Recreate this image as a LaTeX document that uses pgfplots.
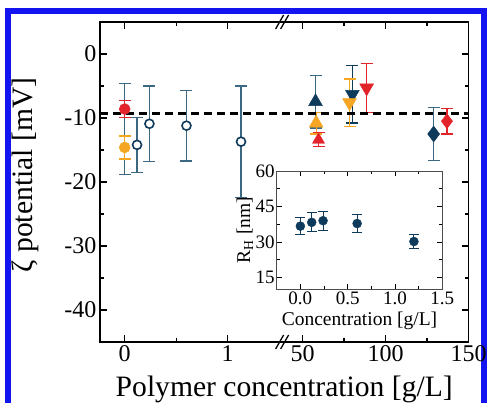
\documentclass[border=0pt]{standalone}
\usepackage{fontspec}
\setmainfont{Liberation Serif}
\usepackage{pgfplots}
\pgfplotsset{compat=1.18}
\definecolor{zred}{HTML}{E3232A}
\definecolor{zorange}{HTML}{F5A623}
\definecolor{znavy}{HTML}{0E3A5C}
\definecolor{zsteel}{HTML}{3D6882}
\definecolor{frameblue}{HTML}{1414F0}
% Broken x axis: left part in g/L as is (0..1.5);
% right part (50..150 g/L) drawn at u = 1.728 + (c-50)*0.01612
\begin{document}
\begin{tikzpicture}
\useasboundingbox (0,0) rectangle (488bp,403bp);
\draw[frameblue, line width=6bp] (8bp,-10bp) -- (8bp,392bp) -- (483.5bp,392bp) -- (483.5bp,-10bp);
\begin{axis}[
  at={(100bp,61bp)}, anchor=south west,
  scale only axis, width=368.5bp, height=320bp,
  xmin=-0.24, xmax=3.34, ymin=-45, ymax=5,
  clip=false,
  x filter/.expression={x<5 ? x : 1.728+(x-50)*0.01612},
  xtick={0,1,1.728,2.534,3.34},
  xticklabels={0,1,50,100,150},
  minor xtick={0.5,2.131,2.937},
  ytick={-40,-30,-20,-10,0},
  minor ytick={-45,-35,-25,-15,-5,5},
  tick align=inside,
  major tick length=7bp, minor tick length=4bp,
  every tick/.style={black, line width=1.2bp},
  axis line style={line width=1.5bp},
  /pgf/number format/assume math mode=true,
  tick label style={font=\fontsize{24bp}{28bp}\selectfont},
  label style={font=\fontsize{29.6bp}{34bp}\selectfont},
  xlabel={Polymer concentration [g/L]},
  ylabel={ζ potential [mV]},
  xlabel style={at={(axis description cs:0.5,-0.171)}, anchor=base},
  ylabel style={at={(axis description cs:-0.182,0.522)}, anchor=base},
]
% bar at x=0 (marker hidden)
\addplot[only marks, mark=*, mark size=0pt, mark options={draw=none, fill=none},
  error bars/.cd, y dir=both, y explicit,
  error bar style={draw=zsteel, line width=1.3bp},
  error mark options={rotate=90, mark size=6bp, line width=1.3bp, draw=zsteel}]
  table[y error=err] {
x y err
0 -11.7 7.1
};
% open circles
\addplot[only marks, mark=*, mark size=4.5bp,
  mark options={draw=znavy, fill=white, line width=1.6bp},
  error bars/.cd, y dir=both, y explicit,
  error bar style={draw=zsteel, line width=1.3bp},
  error mark options={rotate=90, mark size=6bp, line width=1.3bp, draw=zsteel}]
  table[y error=err] {
x y err
0.12 -14.2 4.3
0.24 -10.9 5.9
0.6 -11.2 5.5
1.13 -13.7 8.7
};
% red circle
\addplot[only marks, mark=*, mark size=5.5bp,
  mark options={draw=zred, fill=zred},
  error bars/.cd, y dir=both, y explicit,
  error bar style={draw=zred, line width=1.3bp},
  error mark options={rotate=90, mark size=6bp, line width=1.3bp, draw=zred}]
  table[y error=err] {
x y err
0 -8.6 1.3
};
% orange circle
\addplot[only marks, mark=*, mark size=5.5bp,
  mark options={draw=zorange, fill=zorange},
  error bars/.cd, y dir=both, y explicit,
  error bar style={draw=zorange, line width=1.3bp},
  error mark options={rotate=90, mark size=6bp, line width=1.3bp, draw=zorange}]
  table[y error=err] {
x y err
0 -14.6 1.8
};
% navy triangle up
\addplot[only marks, mark=triangle*, mark size=8bp,
  mark options={draw=znavy, fill=znavy},
  error bars/.cd, y dir=both, y explicit,
  error bar style={draw=zsteel, line width=1.3bp},
  error mark options={rotate=90, mark size=6bp, line width=1.3bp, draw=zsteel}]
  table[y error=err] {
x y err
57.8 -7.45 4.1
};
% orange triangle up
\addplot[only marks, mark=triangle*, mark size=8bp,
  mark options={draw=zorange, fill=zorange},
  error bars/.cd, y dir=both, y explicit,
  error bar style={draw=zorange, line width=1.3bp},
  error mark options={rotate=90, mark size=6bp, line width=1.3bp, draw=zorange}]
  table[y error=err] {
x y err
58.2 -10.8 1.7
};
% red triangle up
\addplot[only marks, mark=triangle*, mark size=7bp,
  mark options={draw=zred, fill=zred},
  error bars/.cd, y dir=both, y explicit,
  error bar style={draw=zred, line width=1.3bp},
  error mark options={rotate=90, mark size=6bp, line width=1.3bp, draw=zred}]
  table[y error=err] {
x y err
59.6 -13.4 1.1
};
% navy triangle down
\addplot[only marks, mark=triangle*, mark size=8bp,
  mark options={draw=znavy, fill=znavy, rotate=180},
  error bars/.cd, y dir=both, y explicit,
  error bar style={draw=znavy, line width=1.3bp},
  error mark options={rotate=90, mark size=6bp, line width=1.3bp, draw=znavy}]
  table[y error=err] {
x y err
80 -6.3 4.5
};
% orange triangle down
\addplot[only marks, mark=triangle*, mark size=8bp,
  mark options={draw=zorange, fill=zorange, rotate=180},
  error bars/.cd, y dir=both, y explicit,
  error bar style={draw=zorange, line width=1.3bp},
  error mark options={rotate=90, mark size=6bp, line width=1.3bp, draw=zorange}]
  table[y error=err] {
x y err
78.3 -7.6 3.7
};
% red triangle down
\addplot[only marks, mark=triangle*, mark size=8bp,
  mark options={draw=zred, fill=zred, rotate=180},
  error bars/.cd, y dir=both, y explicit,
  error bar style={draw=zred, line width=1.3bp},
  error mark options={rotate=90, mark size=6bp, line width=1.3bp, draw=zred}]
  table[y error=err] {
x y err
88.6 -5.3 3.8
};
% navy diamond
\addplot[only marks, mark=diamond*, mark size=8bp,
  mark options={draw=znavy, fill=znavy},
  error bars/.cd, y dir=both, y explicit,
  error bar style={draw=zsteel, line width=1.3bp},
  error mark options={rotate=90, mark size=6bp, line width=1.3bp, draw=zsteel}]
  table[y error=err] {
x y err
129 -12.5 4.1
};
% red diamond
\addplot[only marks, mark=diamond*, mark size=7.5bp,
  mark options={draw=zred, fill=zred},
  error bars/.cd, y dir=both, y explicit,
  error bar style={draw=zred, line width=1.3bp},
  error mark options={rotate=90, mark size=6bp, line width=1.3bp, draw=zred}]
  table[y error=err] {
x y err
137 -10.5 2.0
};
% dashed reference line
\addplot[black, line width=2.5bp, dash pattern=on 8bp off 5bp, mark=none]
  coordinates {(-0.24,-9.27) (150,-9.27)};
% axis break marks
\draw[black, line width=1.3bp] ([xshift=-7bp,yshift=-7bp]axis cs:1.534,5) -- ++(8bp,14bp);
\draw[black, line width=1.3bp] ([xshift=-2bp,yshift=-7bp]axis cs:1.534,5) -- ++(8bp,14bp);
\draw[black, line width=1.3bp] ([xshift=-7bp,yshift=-7bp]axis cs:1.534,-45) -- ++(8bp,14bp);
\draw[black, line width=1.3bp] ([xshift=-2bp,yshift=-7bp]axis cs:1.534,-45) -- ++(8bp,14bp);
\end{axis}
% inset
\begin{axis}[
  at={(276.7bp,113.7bp)}, anchor=south west,
  scale only axis, width=165.6bp, height=118.3bp,
  xmin=-0.25, xmax=1.5, ymin=10, ymax=60,
  axis background/.style={fill=white},
  xtick={0,0.5,1,1.5}, ytick={15,30,45,60},
  minor x tick num=1, minor y tick num=1,
  tick align=inside,
  major tick length=5bp, minor tick length=3bp,
  every tick/.style={black, line width=0.8bp},
  axis line style={line width=1bp, black!70},
  /pgf/number format/assume math mode=true,
  xticklabel style={/pgf/number format/.cd, fixed, fixed zerofill, precision=1},
  tick label style={font=\fontsize{19bp}{22bp}\selectfont, inner sep=2bp},
  label style={font=\fontsize{19.5bp}{23bp}\selectfont},
  xlabel={Concentration [g/L]},
  ylabel={R\textsubscript{H} [nm]},
  xlabel style={at={(axis description cs:0.5,-0.306)}, anchor=base},
  ylabel style={at={(axis description cs:-0.161,0.5)}, anchor=base},
]
\addplot[only marks, mark=*, mark size=4.5bp,
  mark options={draw=znavy, fill=znavy},
  error bars/.cd, y dir=both, y explicit,
  error bar style={draw=znavy, line width=1bp},
  error mark options={rotate=90, mark size=5bp, line width=1bp, draw=znavy}]
  table[y error=err] {
x y err
0 36.7 3.7
0.12 38.3 4.0
0.24 39.0 4.0
0.6 37.8 3.7
1.2 30.2 3.0
};
\end{axis}
\end{tikzpicture}
\end{document}
